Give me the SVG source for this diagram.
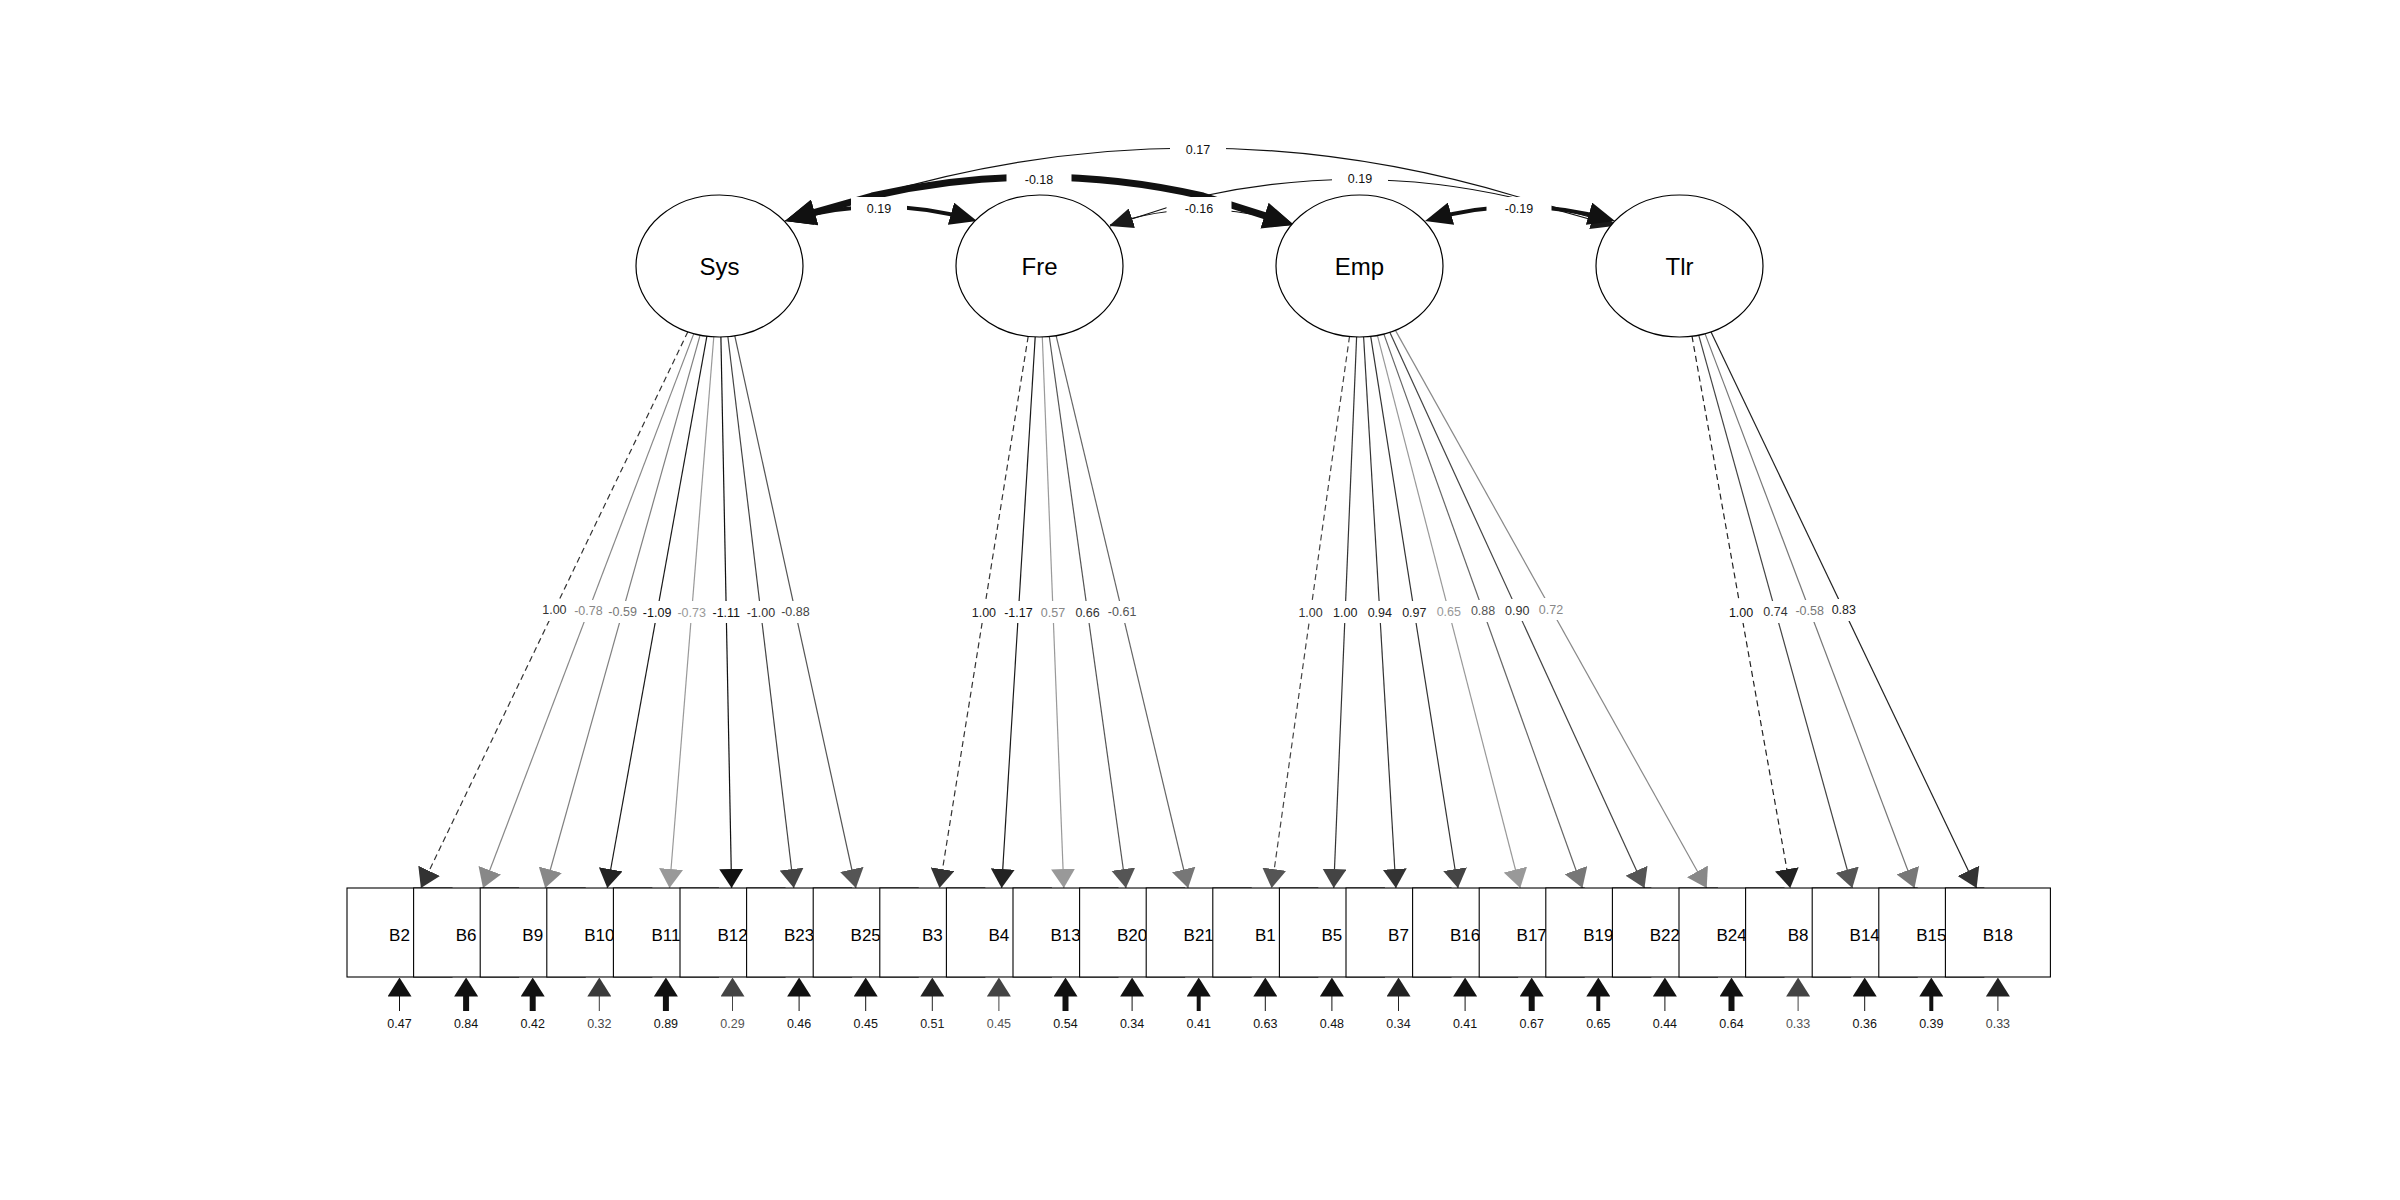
<svg xmlns="http://www.w3.org/2000/svg" width="2400" height="1200" viewBox="0 0 2400 1200">
<style>
text{font-family:"Liberation Sans",Arial,sans-serif;text-anchor:middle}
.lat ellipse{fill:#fff;stroke:#000;stroke-width:1.2}
.lat text{font-size:24px;fill:#000}
.man rect{fill:#fff;stroke:#000;stroke-width:1.1}
.man text{font-size:17px;fill:#000}
.ld{fill:none;stroke-width:1.2}
.dsh{stroke-dasharray:6 4}
.cov{fill:none;stroke:#111}
.res{fill:none}
.bg{fill:#fff}
.el{font-size:12.5px}
</style>
<defs>
<marker id="h1" markerUnits="userSpaceOnUse" markerWidth="19" markerHeight="24" refX="19" refY="12" orient="auto"><path d="M0,0 L19,12 L0,24 Z" fill="#111"/></marker>
<marker id="h2" markerUnits="userSpaceOnUse" markerWidth="19" markerHeight="24" refX="19" refY="12" orient="auto"><path d="M0,0 L19,12 L0,24 Z" fill="#222"/></marker>
<marker id="h3" markerUnits="userSpaceOnUse" markerWidth="19" markerHeight="24" refX="19" refY="12" orient="auto"><path d="M0,0 L19,12 L0,24 Z" fill="#333"/></marker>
<marker id="h4" markerUnits="userSpaceOnUse" markerWidth="19" markerHeight="24" refX="19" refY="12" orient="auto"><path d="M0,0 L19,12 L0,24 Z" fill="#444"/></marker>
<marker id="h5" markerUnits="userSpaceOnUse" markerWidth="19" markerHeight="24" refX="19" refY="12" orient="auto"><path d="M0,0 L19,12 L0,24 Z" fill="#555"/></marker>
<marker id="h6" markerUnits="userSpaceOnUse" markerWidth="19" markerHeight="24" refX="19" refY="12" orient="auto"><path d="M0,0 L19,12 L0,24 Z" fill="#666"/></marker>
<marker id="h7" markerUnits="userSpaceOnUse" markerWidth="19" markerHeight="24" refX="19" refY="12" orient="auto"><path d="M0,0 L19,12 L0,24 Z" fill="#777"/></marker>
<marker id="h8" markerUnits="userSpaceOnUse" markerWidth="19" markerHeight="24" refX="19" refY="12" orient="auto"><path d="M0,0 L19,12 L0,24 Z" fill="#888"/></marker>
<marker id="h9" markerUnits="userSpaceOnUse" markerWidth="19" markerHeight="24" refX="19" refY="12" orient="auto"><path d="M0,0 L19,12 L0,24 Z" fill="#999"/></marker>
<marker id="r1" markerUnits="userSpaceOnUse" markerWidth="19" markerHeight="24" refX="0.5" refY="12" orient="auto"><path d="M0,0 L19,12 L0,24 Z" fill="#111"/></marker>
<marker id="r2" markerUnits="userSpaceOnUse" markerWidth="19" markerHeight="24" refX="0.5" refY="12" orient="auto"><path d="M0,0 L19,12 L0,24 Z" fill="#222"/></marker>
<marker id="r3" markerUnits="userSpaceOnUse" markerWidth="19" markerHeight="24" refX="0.5" refY="12" orient="auto"><path d="M0,0 L19,12 L0,24 Z" fill="#3a3a3a"/></marker>
<marker id="r4" markerUnits="userSpaceOnUse" markerWidth="19" markerHeight="24" refX="0.5" refY="12" orient="auto"><path d="M0,0 L19,12 L0,24 Z" fill="#444"/></marker>
<marker id="ct" markerUnits="userSpaceOnUse" markerWidth="31" markerHeight="27" refX="21" refY="13.5" orient="auto-start-reverse"><path d="M0,0 L31,13.5 L0,27 Z" fill="#111"/></marker>
<marker id="cm" markerUnits="userSpaceOnUse" markerWidth="27" markerHeight="23" refX="21" refY="11.5" orient="auto-start-reverse"><path d="M0,0 L27,11.5 L0,23 Z" fill="#111"/></marker>
<marker id="cs" markerUnits="userSpaceOnUse" markerWidth="23" markerHeight="19" refX="23" refY="9.5" orient="auto-start-reverse"><path d="M0,0 L23,9.5 L0,19 Z" fill="#1a1a1a"/></marker>
</defs>
<rect width="2400" height="1200" fill="#fff"/>
<g id="connectors">
<!-- loadings Sys -->
<path class="ld dsh" d="M687.9 331.7 L420.9 888" stroke="#333" marker-end="url(#h3)"/>
<path class="ld" d="M693.8 333.6 L483.0 888" stroke="#888" marker-end="url(#h8)"/>
<path class="ld" d="M700.1 335.1 L545.2 888" stroke="#808080" marker-end="url(#h8)"/>
<path class="ld" d="M706.9 336.2 L607.3 888" stroke="#1a1a1a" stroke-width="1.5" marker-end="url(#h2)"/>
<path class="ld" d="M713.8 336.8 L669.5 888" stroke="#999" marker-end="url(#h9)"/>
<path class="ld" d="M720.9 337.0 L731.6 888" stroke="#111" stroke-width="1.5" marker-end="url(#h1)"/>
<path class="ld" d="M727.9 336.7 L793.8 888" stroke="#444" marker-end="url(#h4)"/>
<path class="ld" d="M734.8 335.8 L855.9 888" stroke="#555" marker-end="url(#h5)"/>
<!-- loadings Fre -->
<path class="ld dsh" d="M1028.2 336.3 L939.5 888" stroke="#333" marker-end="url(#h3)"/>
<path class="ld" d="M1035.2 336.9 L1001.6 888" stroke="#1a1a1a" stroke-width="1.6" marker-end="url(#h2)"/>
<path class="ld" d="M1042.3 337.0 L1063.8 888" stroke="#999" marker-end="url(#h9)"/>
<path class="ld" d="M1049.3 336.5 L1125.9 888" stroke="#555" marker-end="url(#h5)"/>
<path class="ld" d="M1056.1 335.6 L1188.1 888" stroke="#666" marker-end="url(#h7)"/>
<!-- loadings Emp -->
<path class="ld dsh" d="M1349.5 336.5 L1271.6 888" stroke="#444" marker-end="url(#h5)"/>
<path class="ld" d="M1356.6 337.0 L1333.7 888" stroke="#333" marker-end="url(#h4)"/>
<path class="ld" d="M1363.6 336.9 L1395.9 888" stroke="#333" marker-end="url(#h3)"/>
<path class="ld" d="M1370.7 336.4 L1458.0 888" stroke="#333" marker-end="url(#h4)"/>
<path class="ld" d="M1377.4 335.3 L1520.2 888" stroke="#999" marker-end="url(#h9)"/>
<path class="ld" d="M1383.8 333.9 L1582.4 888" stroke="#666" marker-end="url(#h7)"/>
<path class="ld" d="M1389.8 332.2 L1644.5 888" stroke="#444" marker-end="url(#h5)"/>
<path class="ld" d="M1395.3 330.1 L1706.7 888" stroke="#888" marker-end="url(#h8)"/>
<!-- loadings Tlr -->
<path class="ld dsh" d="M1692.0 336.2 L1790.2 888" stroke="#222" marker-end="url(#h2)"/>
<path class="ld" d="M1698.7 335.1 L1852.3 888" stroke="#444" marker-end="url(#h5)"/>
<path class="ld" d="M1705.0 333.6 L1914.5 888" stroke="#777" marker-end="url(#h7)"/>
<path class="ld" d="M1710.9 331.8 L1976.6 888" stroke="#222" marker-end="url(#h3)"/>
<!-- covariances -->
<path class="cov" d="M785 221 L872 196 Q1194 100 1515 196 L1615 224" stroke-width="1.2" marker-start="url(#cs)" marker-end="url(#cs)"/>
<path class="cov" d="M1110 226 L1203 196 Q1359 162 1515 198 L1614 226" stroke-width="1.2" marker-start="url(#cs)" marker-end="url(#cs)"/>
<path class="cov" d="M1110 225 Q1200 194 1294 225" stroke-width="1.2" marker-start="url(#cs)" marker-end="url(#cs)"/>
<path class="cov" d="M794.6 218.2 L872 196 Q1038 158 1203 196 L1284.5 222" stroke-width="7" stroke-linejoin="round" marker-start="url(#ct)" marker-end="url(#ct)"/>
<path class="cov" d="M790.8 219.4 Q881 194 971.2 219.4" stroke-width="4" marker-start="url(#cm)" marker-end="url(#cm)"/>
<path class="cov" d="M1430.8 219.4 Q1520 194 1609.2 219.4" stroke-width="4" marker-start="url(#cm)" marker-end="url(#cm)"/>
<!-- residuals -->
<path class="res" d="M399.5 1011 V996" stroke="#111" stroke-width="1" marker-end="url(#r1)"/>
<path class="res" d="M466.1 1011 V996" stroke="#111" stroke-width="6" marker-end="url(#r1)"/>
<path class="res" d="M532.7 1011 V996" stroke="#111" stroke-width="6" marker-end="url(#r1)"/>
<path class="res" d="M599.3 1011 V996" stroke="#3a3a3a" stroke-width="1" marker-end="url(#r3)"/>
<path class="res" d="M665.9 1011 V996" stroke="#111" stroke-width="6" marker-end="url(#r1)"/>
<path class="res" d="M732.5 1011 V996" stroke="#444" stroke-width="1" marker-end="url(#r4)"/>
<path class="res" d="M799.1 1011 V996" stroke="#111" stroke-width="1" marker-end="url(#r1)"/>
<path class="res" d="M865.7 1011 V996" stroke="#111" stroke-width="1" marker-end="url(#r1)"/>
<path class="res" d="M932.3 1011 V996" stroke="#222" stroke-width="1" marker-end="url(#r2)"/>
<path class="res" d="M998.9 1011 V996" stroke="#444" stroke-width="1" marker-end="url(#r4)"/>
<path class="res" d="M1065.5 1011 V996" stroke="#111" stroke-width="6" marker-end="url(#r1)"/>
<path class="res" d="M1132.1 1011 V996" stroke="#111" stroke-width="1" marker-end="url(#r1)"/>
<path class="res" d="M1198.7 1011 V996" stroke="#111" stroke-width="4" marker-end="url(#r1)"/>
<path class="res" d="M1265.3 1011 V996" stroke="#111" stroke-width="1" marker-end="url(#r1)"/>
<path class="res" d="M1331.9 1011 V996" stroke="#111" stroke-width="1" marker-end="url(#r1)"/>
<path class="res" d="M1398.5 1011 V996" stroke="#222" stroke-width="1" marker-end="url(#r2)"/>
<path class="res" d="M1465.1 1011 V996" stroke="#111" stroke-width="1" marker-end="url(#r1)"/>
<path class="res" d="M1531.7 1011 V996" stroke="#111" stroke-width="6" marker-end="url(#r1)"/>
<path class="res" d="M1598.3 1011 V996" stroke="#111" stroke-width="4" marker-end="url(#r1)"/>
<path class="res" d="M1664.9 1011 V996" stroke="#111" stroke-width="1" marker-end="url(#r1)"/>
<path class="res" d="M1731.5 1011 V996" stroke="#111" stroke-width="6" marker-end="url(#r1)"/>
<path class="res" d="M1798.1 1011 V996" stroke="#444" stroke-width="1" marker-end="url(#r4)"/>
<path class="res" d="M1864.7 1011 V996" stroke="#111" stroke-width="1" marker-end="url(#r1)"/>
<path class="res" d="M1931.3 1011 V996" stroke="#111" stroke-width="4" marker-end="url(#r1)"/>
<path class="res" d="M1997.9 1011 V996" stroke="#222" stroke-width="1" marker-end="url(#r2)"/>
<!-- edge label backgrounds -->
<g class="bg">
<rect x="526.4" y="599" width="56" height="22"/>
<rect x="555.9" y="600" width="65" height="22"/>
<rect x="590.1" y="601" width="65" height="22"/>
<rect x="624.6" y="601" width="65" height="22"/>
<rect x="659.2" y="601" width="65" height="22"/>
<rect x="693.8" y="601" width="65" height="22"/>
<rect x="728.4" y="601" width="65" height="22"/>
<rect x="762.9" y="601" width="65" height="22"/>
<rect x="955.9" y="601" width="56" height="22"/>
<rect x="985.9" y="601" width="65" height="22"/>
<rect x="1025.0" y="601" width="56" height="22"/>
<rect x="1059.6" y="601" width="56" height="22"/>
<rect x="1089.6" y="601" width="65" height="22"/>
<rect x="1282.6" y="601" width="56" height="22"/>
<rect x="1317.2" y="601" width="56" height="22"/>
<rect x="1351.8" y="601" width="56" height="22"/>
<rect x="1386.3" y="601" width="56" height="22"/>
<rect x="1420.8" y="601" width="56" height="22"/>
<rect x="1455.1" y="600" width="56" height="22"/>
<rect x="1489.2" y="599" width="56" height="22"/>
<rect x="1523.0" y="598" width="56" height="22"/>
<rect x="1713.1" y="601" width="56" height="22"/>
<rect x="1747.5" y="601" width="56" height="22"/>
<rect x="1777.2" y="600" width="65" height="22"/>
<rect x="1815.8" y="599" width="56" height="22"/>
<rect x="1170" y="138" width="56" height="22"/>
<rect x="1006.5" y="168" width="65" height="22"/>
<rect x="1332" y="168" width="56" height="22"/>
<rect x="851" y="197" width="56" height="22"/>
<rect x="1166.5" y="197" width="65" height="22"/>
<rect x="1486.5" y="197" width="65" height="22"/>
</g>
<!-- edge labels -->
<g class="el">
<text x="554.4" y="614.4" fill="#333">1.00</text>
<text x="588.4" y="615.3" fill="#888">-0.78</text>
<text x="622.6" y="616.1" fill="#777">-0.59</text>
<text x="657.1" y="616.6" fill="#111">-1.09</text>
<text x="691.7" y="616.9" fill="#999">-0.73</text>
<text x="726.3" y="617.0" fill="#111">-1.11</text>
<text x="760.9" y="616.9" fill="#333">-1.00</text>
<text x="795.4" y="616.4" fill="#444">-0.88</text>
<text x="983.9" y="616.6" fill="#222">1.00</text>
<text x="1018.4" y="616.9" fill="#111">-1.17</text>
<text x="1053.0" y="617.0" fill="#888">0.57</text>
<text x="1087.6" y="616.8" fill="#333">0.66</text>
<text x="1122.1" y="616.3" fill="#555">-0.61</text>
<text x="1310.6" y="616.8" fill="#333">1.00</text>
<text x="1345.2" y="617.0" fill="#222">1.00</text>
<text x="1379.8" y="617.0" fill="#222">0.94</text>
<text x="1414.3" y="616.7" fill="#222">0.97</text>
<text x="1448.8" y="616.2" fill="#999">0.65</text>
<text x="1483.1" y="615.4" fill="#555">0.88</text>
<text x="1517.2" y="614.6" fill="#333">0.90</text>
<text x="1551.0" y="613.5" fill="#888">0.72</text>
<text x="1741.1" y="616.6" fill="#111">1.00</text>
<text x="1775.5" y="616.1" fill="#333">0.74</text>
<text x="1809.7" y="615.3" fill="#777">-0.58</text>
<text x="1843.8" y="614.4" fill="#222">0.83</text>
<text x="1198" y="153.5" fill="#111">0.17</text>
<text x="1039" y="183.5" fill="#111">-0.18</text>
<text x="1360" y="183" fill="#111">0.19</text>
<text x="879" y="212.5" fill="#111">0.19</text>
<text x="1199" y="212.5" fill="#111">-0.16</text>
<text x="1519" y="212.5" fill="#111">-0.19</text>
<text x="399.5" y="1027.5" fill="#111">0.47</text>
<text x="466.1" y="1027.5" fill="#111">0.84</text>
<text x="532.7" y="1027.5" fill="#111">0.42</text>
<text x="599.3" y="1027.5" fill="#444">0.32</text>
<text x="665.9" y="1027.5" fill="#111">0.89</text>
<text x="732.5" y="1027.5" fill="#555">0.29</text>
<text x="799.1" y="1027.5" fill="#111">0.46</text>
<text x="865.7" y="1027.5" fill="#111">0.45</text>
<text x="932.3" y="1027.5" fill="#222">0.51</text>
<text x="998.9" y="1027.5" fill="#555">0.45</text>
<text x="1065.5" y="1027.5" fill="#111">0.54</text>
<text x="1132.1" y="1027.5" fill="#111">0.34</text>
<text x="1198.7" y="1027.5" fill="#111">0.41</text>
<text x="1265.3" y="1027.5" fill="#111">0.63</text>
<text x="1331.9" y="1027.5" fill="#111">0.48</text>
<text x="1398.5" y="1027.5" fill="#222">0.34</text>
<text x="1465.1" y="1027.5" fill="#111">0.41</text>
<text x="1531.7" y="1027.5" fill="#111">0.67</text>
<text x="1598.3" y="1027.5" fill="#111">0.65</text>
<text x="1664.9" y="1027.5" fill="#111">0.44</text>
<text x="1731.5" y="1027.5" fill="#111">0.64</text>
<text x="1798.1" y="1027.5" fill="#555">0.33</text>
<text x="1864.7" y="1027.5" fill="#111">0.36</text>
<text x="1931.3" y="1027.5" fill="#111">0.39</text>
<text x="1997.9" y="1027.5" fill="#444">0.33</text>
</g>
</g>
<g id="Sys" class="lat"><ellipse cx="719.5" cy="266" rx="83.5" ry="71"/><text x="719.5" y="275">Sys</text></g>
<g id="Fre" class="lat"><ellipse cx="1039.5" cy="266" rx="83.5" ry="71"/><text x="1039.5" y="275">Fre</text></g>
<g id="Emp" class="lat"><ellipse cx="1359.5" cy="266" rx="83.5" ry="71"/><text x="1359.5" y="275">Emp</text></g>
<g id="Tlr" class="lat"><ellipse cx="1679.5" cy="266" rx="83.5" ry="71"/><text x="1679.5" y="275">Tlr</text></g>
<g id="B2" class="man"><rect x="347.0" y="888" width="105" height="89"/><text x="399.5" y="941">B2</text></g>
<g id="B6" class="man"><rect x="413.6" y="888" width="105" height="89"/><text x="466.1" y="941">B6</text></g>
<g id="B9" class="man"><rect x="480.2" y="888" width="105" height="89"/><text x="532.7" y="941">B9</text></g>
<g id="B10" class="man"><rect x="546.8" y="888" width="105" height="89"/><text x="599.3" y="941">B10</text></g>
<g id="B11" class="man"><rect x="613.4" y="888" width="105" height="89"/><text x="665.9" y="941">B11</text></g>
<g id="B12" class="man"><rect x="680.0" y="888" width="105" height="89"/><text x="732.5" y="941">B12</text></g>
<g id="B23" class="man"><rect x="746.6" y="888" width="105" height="89"/><text x="799.1" y="941">B23</text></g>
<g id="B25" class="man"><rect x="813.2" y="888" width="105" height="89"/><text x="865.7" y="941">B25</text></g>
<g id="B3" class="man"><rect x="879.8" y="888" width="105" height="89"/><text x="932.3" y="941">B3</text></g>
<g id="B4" class="man"><rect x="946.4" y="888" width="105" height="89"/><text x="998.9" y="941">B4</text></g>
<g id="B13" class="man"><rect x="1013.0" y="888" width="105" height="89"/><text x="1065.5" y="941">B13</text></g>
<g id="B20" class="man"><rect x="1079.6" y="888" width="105" height="89"/><text x="1132.1" y="941">B20</text></g>
<g id="B21" class="man"><rect x="1146.2" y="888" width="105" height="89"/><text x="1198.7" y="941">B21</text></g>
<g id="B1" class="man"><rect x="1212.8" y="888" width="105" height="89"/><text x="1265.3" y="941">B1</text></g>
<g id="B5" class="man"><rect x="1279.4" y="888" width="105" height="89"/><text x="1331.9" y="941">B5</text></g>
<g id="B7" class="man"><rect x="1346.0" y="888" width="105" height="89"/><text x="1398.5" y="941">B7</text></g>
<g id="B16" class="man"><rect x="1412.6" y="888" width="105" height="89"/><text x="1465.1" y="941">B16</text></g>
<g id="B17" class="man"><rect x="1479.2" y="888" width="105" height="89"/><text x="1531.7" y="941">B17</text></g>
<g id="B19" class="man"><rect x="1545.8" y="888" width="105" height="89"/><text x="1598.3" y="941">B19</text></g>
<g id="B22" class="man"><rect x="1612.4" y="888" width="105" height="89"/><text x="1664.9" y="941">B22</text></g>
<g id="B24" class="man"><rect x="1679.0" y="888" width="105" height="89"/><text x="1731.5" y="941">B24</text></g>
<g id="B8" class="man"><rect x="1745.6" y="888" width="105" height="89"/><text x="1798.1" y="941">B8</text></g>
<g id="B14" class="man"><rect x="1812.2" y="888" width="105" height="89"/><text x="1864.7" y="941">B14</text></g>
<g id="B15" class="man"><rect x="1878.8" y="888" width="105" height="89"/><text x="1931.3" y="941">B15</text></g>
<g id="B18" class="man"><rect x="1945.4" y="888" width="105" height="89"/><text x="1997.9" y="941">B18</text></g>
</svg>
